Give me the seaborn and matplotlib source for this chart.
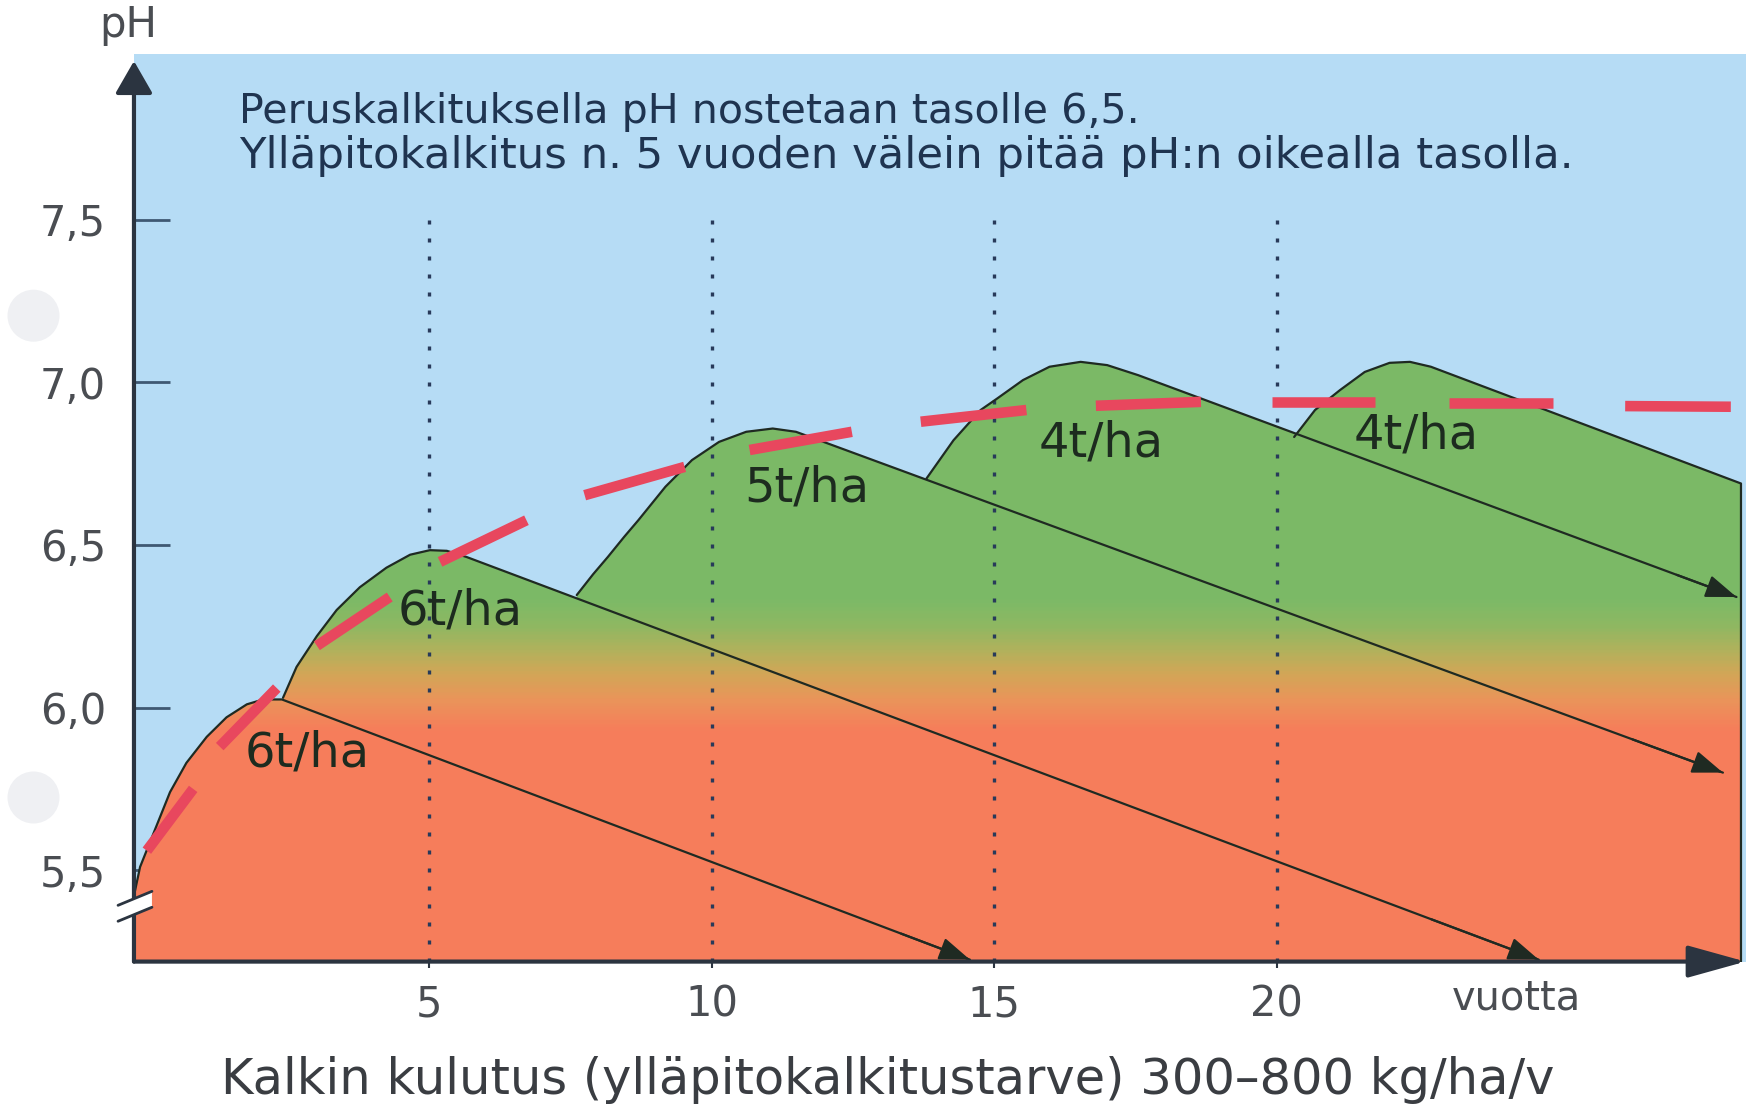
import numpy as np
import pandas as pd
import matplotlib
matplotlib.use("Agg")
import matplotlib.pyplot as plt
import seaborn as sns
from matplotlib.patches import Polygon, Ellipse
from matplotlib.colors import LinearSegmentedColormap

# ---------------- data ----------------
year_ticks = [5, 10, 15, 20]
year_tick_labels = ["5", "10", "15", "20"]
ph_ticks = [5.5, 6.0, 6.5, 7.0, 7.5]
ph_tick_labels = ["5,5", "6,0", "6,5", "7,0", "7,5"]

# rising curve of each liming "hill" up to the point where the decline starts
hill1_year = [-0.23, -0.12, 0.11, 0.41, 0.70, 1.06, 1.41, 1.77, 2.06, 2.39]
hill1_ph = [5.42, 5.51, 5.61, 5.74, 5.83, 5.91, 5.97, 6.01, 6.025, 6.025]
hill2_year = [2.41, 2.65, 3.01, 3.36, 3.77, 4.24, 4.66, 5.01, 5.31, 5.66]
hill2_ph = [6.03, 6.125, 6.22, 6.30, 6.37, 6.43, 6.47, 6.484, 6.482, 6.463]
hill3_year = [7.61, 7.90, 8.16, 8.45, 8.70, 9.18, 9.65, 10.13, 10.61, 11.08, 11.49, 11.90]
hill3_ph = [6.346, 6.41, 6.463, 6.525, 6.576, 6.679, 6.761, 6.817, 6.848, 6.858, 6.848, 6.822]
hill4_year = [13.80, 14.28, 14.76, 15.05, 15.51, 15.98, 16.53, 17.00, 17.55]
hill4_ph = [6.704, 6.822, 6.915, 6.950, 7.007, 7.048, 7.063, 7.053, 7.022]
hill5_year = [20.31, 20.68, 21.12, 21.56, 22.00, 22.36, 22.73]
hill5_ph = [6.832, 6.915, 6.976, 7.032, 7.060, 7.063, 7.048]

# end of each straight decline line
decline_end_year = [14.57, 24.64, 27.90, 28.14, 28.22]
decline_end_ph = [5.225, 5.225, 5.80, 6.34, 6.689]
decline_has_arrow = [True, True, True, True, False]

rate_labels = ["6t/ha", "6t/ha", "5t/ha", "4t/ha", "4t/ha"]
rate_label_year = [2.83, 5.55, 11.69, 16.90, 22.47]
rate_label_ph = [5.86, 6.296, 6.676, 6.814, 6.838]

# red dashed target curve: start/end of each visible dash
target_year = [0.00, 0.82, 1.29, 2.30, 3.01, 4.30, 5.19, 6.72, 7.75, 9.52,
               10.67, 12.48, 13.70, 15.57, 16.80, 18.66, 19.91, 21.74,
               23.06, 24.89, 26.17, 28.04]
target_ph = [5.56, 5.75, 5.88, 6.06, 6.19, 6.34, 6.448, 6.576, 6.653, 6.740,
             6.792, 6.848, 6.879, 6.915, 6.928, 6.940, 6.940, 6.940,
             6.937, 6.937, 6.927, 6.925]

note_lines = ["Peruskalkituksella pH nostetaan tasolle 6,5.",
              "Ylläpitokalkitus n. 5 vuoden välein pitää pH:n oikealla tasolla."]
x_unit = "vuotta"
y_title = "pH"
x_title = "Kalkin kulutus (ylläpitokalkitustarve) 300–800 kg/ha/v"

# ---------------- style ----------------
sns.set_theme(style="white")
plt.rcParams["font.family"] = ["DejaVu Sans"]

BLUE = "#b6dcf5"
DARK = "#2b3440"
OUTLINE = "#1f2a22"
RED = "#e8475e"

W, H = 1749, 1104
fig = plt.figure(figsize=(W / 100, H / 100), dpi=100)
fig.patch.set_facecolor("white")
ax = fig.add_axes([0.0766, 0.129, 0.9214, 0.8225])
XMIN, XMAX, YMIN, YMAX = -0.228, 28.30, 5.219, 8.011
ax.set_xlim(XMIN, XMAX)
ax.set_ylim(YMIN, YMAX)
ax.set_facecolor(BLUE)
for s in ax.spines.values():
    s.set_visible(False)
ax.grid(False)

# ---------------- gradient fill of the hills ----------------
nodes = [(5.219, "#f77d5c"), (5.93, "#f67e5b"), (6.02, "#ea945a"),
         (6.10, "#d3a657"), (6.17, "#b3b15c"), (6.25, "#8fb862"),
         (6.33, "#7cba67"), (8.011, "#7ab866")]
cmap = LinearSegmentedColormap.from_list(
    "soil", [((p - YMIN) / (YMAX - YMIN), c) for p, c in nodes])
grad = cmap(np.linspace(0, 1, 600)).reshape(600, 1, 4)

hills = [(hill1_year, hill1_ph), (hill2_year, hill2_ph), (hill3_year, hill3_ph),
         (hill4_year, hill4_ph), (hill5_year, hill5_ph)]
for i, (hx, hy) in enumerate(hills):
    ex, ey = decline_end_year[i], decline_end_ph[i]
    poly_x = list(hx) + [ex, ex, hx[0]]
    poly_y = list(hy) + [ey, YMIN - 0.05, YMIN - 0.05]
    if i == 0:
        poly_x = [XMIN - 0.1] + poly_x[:-1] + [XMIN - 0.1]
        poly_y = [hy[0]] + poly_y
    patch = Polygon(np.column_stack([poly_x, poly_y]), closed=True,
                    transform=ax.transData)
    im = ax.imshow(grad, extent=[XMIN, XMAX, YMIN, YMAX], origin="lower",
                   aspect="auto", interpolation="bilinear", zorder=1)
    im.set_clip_path(patch)
ax.set_xlim(XMIN, XMAX)
ax.set_ylim(YMIN, YMAX)

# ---------------- dotted year guides ----------------
ax.vlines(year_ticks, YMIN, 7.524, colors="#283a5a", linewidth=2.4,
          linestyles=[(0, (1.2, 4.2))], zorder=2)

# ---------------- hill outlines and decline lines ----------------
for i, (hx, hy) in enumerate(hills):
    ox = list(hx) + [decline_end_year[i]]
    oy = list(hy) + [decline_end_ph[i]]
    if i == 4:
        ox += [decline_end_year[i]]
        oy += [YMIN]
    sns.lineplot(x=ox, y=oy, sort=False, estimator=None, color=OUTLINE,
                 linewidth=1.6, ax=ax, zorder=3)
    if decline_has_arrow[i]:
        sx, sy = hx[-1], hy[-1]
        ex, ey = decline_end_year[i], decline_end_ph[i]
        f = 0.9
        ax.annotate("", xy=(ex, ey), xytext=(sx + f * (ex - sx), sy + f * (ey - sy)),
                    arrowprops=dict(arrowstyle="-|>,head_length=1.9,head_width=0.7",
                                    mutation_scale=10, lw=1.6, color=OUTLINE,
                                    shrinkA=0, shrinkB=0),
                    annotation_clip=False, zorder=4)

# ---------------- red dashed target curve ----------------
dash_df = pd.DataFrame({"year": target_year, "ph": target_ph,
                        "dash": np.arange(len(target_year)) // 2})
sns.lineplot(data=dash_df, x="year", y="ph", units="dash", estimator=None,
             sort=False, color=RED, linewidth=7.6, solid_capstyle="butt",
             ax=ax, zorder=6)
ax.set_xlabel("")
ax.set_ylabel("")

# ---------------- axes with arrows ----------------
ax.annotate("", xy=(XMAX, YMIN), xytext=(XMIN, YMIN),
            arrowprops=dict(arrowstyle="-|>,head_length=3.6,head_width=1.0",
                            mutation_scale=10, lw=3, color=DARK,
                            shrinkA=0, shrinkB=0),
            annotation_clip=False, zorder=8)
ax.annotate("", xy=(XMIN, 7.988), xytext=(XMIN, YMIN),
            arrowprops=dict(arrowstyle="-|>,head_length=2.0,head_width=1.15",
                            mutation_scale=10, lw=3, color=DARK,
                            shrinkA=0, shrinkB=0),
            annotation_clip=False, zorder=8)

# axis break mark
brk = Polygon([[-0.51, 5.392], [0.09, 5.435], [0.09, 5.386], [-0.51, 5.343]],
              closed=True, facecolor="white", edgecolor="none", zorder=9,
              clip_on=False)
ax.add_patch(brk)
ax.plot([-0.51, 0.09], [5.392, 5.435], color=DARK, lw=2, zorder=10, clip_on=False)
ax.plot([-0.51, 0.09], [5.343, 5.386], color=DARK, lw=2, zorder=10, clip_on=False)

# ticks
ax.set_yticks(ph_ticks)
ax.set_yticklabels(ph_tick_labels)
ax.set_xticks(year_ticks)
ax.set_xticklabels(year_tick_labels)
ax.tick_params(axis="y", direction="in", length=26, width=2, color="#3f5872",
               pad=20, labelsize=30, labelcolor="#4a4d52", left=True)
ax.tick_params(axis="x", direction="out", length=4, width=1.5, color=DARK,
               pad=12, labelsize=30, labelcolor="#4a4d52", bottom=True)

# ---------------- texts ----------------
texts = []
for lab, lx, ly in zip(rate_labels, rate_label_year, rate_label_ph):
    t = ax.text(lx, ly, lab, ha="center", va="center", color="#1d2b1f",
                fontsize=26, zorder=5)
    texts.append(t)

n1 = ax.text(1.64, 7.832, note_lines[0], ha="left", va="center",
             color="#1f3450", fontsize=26, zorder=5)
n2 = ax.text(1.64, 7.696, note_lines[1], ha="left", va="center",
             color="#1f3450", fontsize=26, zorder=5)
vu = ax.text(24.25, 5.106, x_unit, ha="center", va="center",
             color="#4a4d52", fontsize=24, clip_on=False)
ph_t = fig.text(128 / W, 1 - 24.5 / H, y_title, ha="center", va="center",
                color="#4a4d52", fontsize=26)
xt = fig.text(888 / W, 1 - 1080 / H, x_title, ha="center", va="center",
              color="#3a3d42", fontsize=28)

# faint punch-hole marks at the left edge
for cy in (315.7, 797.5):
    fig.add_artist(Ellipse((33.5 / W, 1 - cy / H), 52 / W, 52 / H,
                           transform=fig.transFigure, facecolor="#eff0f3",
                           edgecolor="none"))

# fit text widths to the reference
fig.canvas.draw()
r = fig.canvas.get_renderer()


def fit(t, target_px):
    w = t.get_window_extent(r).width
    t.set_fontsize(t.get_fontsize() * target_px / w)


fit(n1, 898)
fit(n2, 1331)
fit(xt, 1330)
fit(vu, 129)
fit(ph_t, 58)
fit(texts[0], 125)
for t in texts[1:]:
    t.set_fontsize(texts[0].get_fontsize())

fig.savefig("out.png", dpi=100, facecolor="white")
